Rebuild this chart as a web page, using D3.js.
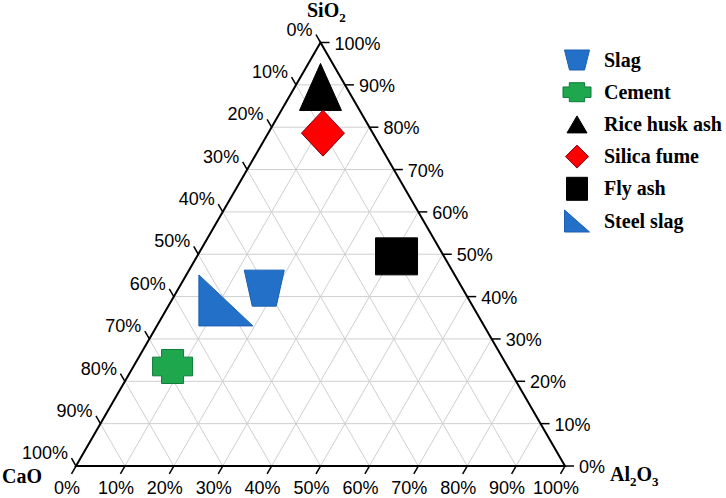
<!DOCTYPE html>
<html>
<head>
<meta charset="utf-8">
<script src="https://cdn.jsdelivr.net/npm/d3@7"></script>
<style>
  body { margin: 0; background: #fff; }
  svg { display: block; }
</style>
</head>
<body>
<div id="chart"></div>
<script>
// materials and their composition (%)
const materials = ["Slag", "Cement", "Rice husk ash", "Silica fume", "Fly ash", "Steel slag"]
const caoValues = [40.5, 68.5, 5.25, 10.2, 9.7, 49.8]
const sio2Values = [42, 23.5, 89.5, 78.6, 49.5, 39.1]
const al2o3Values = [17.5, 8, 5.25, 11.2, 40.8, 11.1]
const tickValues = [0, 10, 20, 30, 40, 50, 60, 70, 80, 90, 100]
const gridValues = [10, 20, 30, 40, 50, 60, 70, 80, 90]

const shapes = ["trapezoid", "cross", "triangle", "diamond", "square", "rightTriangle"]
const fills = ["#2270c8", "#1fa74e", "#000000", "#ff0000", "#000000", "#2270c8"]
const strokes = ["#1b5fb0", "#0f7a3c", "#000000", "#7a0020", "#000000", "#1b5fb0"]
const markerSizes = [[40, 36], [40, 34], [42, 47], [43, 46], [42, 37], [54, 51]]
const legendSizes = [[25, 20], [28, 19], [20, 17], [23, 23], [21, 23], [25, 22]]

function draw() {
  const dimensions = {
    width: 726,
    height: 498,
    left: 76,
    right: 565,
    bottom: 466,
    top: 42.5,
  }

  // x runs along the base (Al2O3 + half of SiO2), y is SiO2
  const xScale = d3.scaleLinear().domain([0, 100]).range([dimensions.left, dimensions.right])
  const yScale = d3.scaleLinear().domain([0, 100]).range([dimensions.bottom, dimensions.top])
  const project = (s, a) => [xScale(a + s / 2), yScale(s)]

  const svg = d3
    .select("#chart")
    .append("svg")
    .attr("width", dimensions.width)
    .attr("height", dimensions.height)

  const line = d3.line()

  // grid
  const grid = svg.append("g").attr("stroke", "#cfcfcf").attr("stroke-width", 1).attr("fill", "none")
  gridValues.forEach(v => {
    // constant SiO2 (horizontal)
    grid.append("path").attr("d", line([project(v, 0), project(v, 100 - v)]))
    // constant Al2O3
    grid.append("path").attr("d", line([project(0, v), project(100 - v, v)]))
    // constant CaO
    grid.append("path").attr("d", line([project(100 - v, 0), project(0, 100 - v)]))
  })

  // frame
  svg
    .append("path")
    .attr("d", line([project(100, 0), project(0, 0), project(0, 100)]) + "Z")
    .attr("fill", "none")
    .attr("stroke", "#000")
    .attr("stroke-width", 2)
    .attr("stroke-linejoin", "miter")

  const tickLen = 9
  const axes = svg.append("g").attr("stroke", "#000").attr("stroke-width", 1.5)
  const labels = svg
    .append("g")
    .attr("font-family", "'Liberation Sans', Arial, sans-serif")
    .attr("font-size", 18)
    .attr("fill", "#000")

  tickValues.forEach(v => {
    // bottom axis: Al2O3
    const [bx, by] = project(0, v)
    const bdx = -0.5 * tickLen
    const bdy = 0.866 * tickLen
    axes.append("line").attr("x1", bx).attr("y1", by).attr("x2", bx + bdx).attr("y2", by + bdy)
    labels
      .append("text")
      .attr("x", bx - 9)
      .attr("y", 494)
      .attr("text-anchor", "middle")
      .text(v + "%")

    // right axis: SiO2
    const [rx, ry] = project(v, 100 - v)
    axes.append("line").attr("x1", rx).attr("y1", ry).attr("x2", rx + tickLen).attr("y2", ry)
    labels
      .append("text")
      .attr("x", rx + tickLen + 5)
      .attr("y", ry + 1)
      .attr("dominant-baseline", "central")
      .text(v + "%")

    // left axis: CaO (0% at top)
    const [lx, ly] = project(100 - v, 0)
    const ldx = -0.5 * tickLen
    const ldy = -0.866 * tickLen
    axes.append("line").attr("x1", lx).attr("y1", ly).attr("x2", lx + ldx).attr("y2", ly + ldy)
    labels
      .append("text")
      .attr("x", lx + ldx - 3.5)
      .attr("y", ly + ldy - 5)
      .attr("text-anchor", "end")
      .attr("dominant-baseline", "central")
      .text(v + "%")
  })

  // marker shapes centred on 0,0
  const shapePath = (shape, w, h) => {
    const hw = w / 2
    const hh = h / 2
    let pts
    if (shape === "trapezoid") {
      pts = [[-hw, -hh], [hw, -hh], [hw * 0.6, hh], [-hw * 0.6, hh]]
    } else if (shape === "cross") {
      const aw = hw * 0.55
      const ah = hh * 0.55
      pts = [[-aw, -hh], [aw, -hh], [aw, -ah], [hw, -ah], [hw, ah], [aw, ah], [aw, hh], [-aw, hh], [-aw, ah], [-hw, ah], [-hw, -ah], [-aw, -ah]]
    } else if (shape === "triangle") {
      pts = [[0, -hh], [hw, hh], [-hw, hh]]
    } else if (shape === "diamond") {
      pts = [[0, -hh], [hw, 0], [0, hh], [-hw, 0]]
    } else if (shape === "square") {
      pts = [[-hw, -hh], [hw, -hh], [hw, hh], [-hw, hh]]
    } else {
      pts = [[-hw, -hh], [hw, hh], [-hw, hh]]
    }
    return line(pts) + "Z"
  }

  // data markers
  svg
    .append("g")
    .selectAll("path")
    .data(materials)
    .join("path")
    .attr("d", (d, i) => shapePath(shapes[i], markerSizes[i][0], markerSizes[i][1]))
    .attr("transform", (d, i) => {
      const [x, y] = project(sio2Values[i], al2o3Values[i])
      return `translate(${x},${y})`
    })
    .attr("fill", (d, i) => fills[i])
    .attr("stroke", (d, i) => strokes[i])
    .attr("stroke-width", 1)

  // axis titles
  const titles = svg
    .append("g")
    .attr("font-family", "'Liberation Serif', 'Times New Roman', serif")
    .attr("font-weight", "bold")
    .attr("font-size", 20)
    .attr("fill", "#000")

  const sio2 = titles.append("text").attr("x", 307).attr("y", 17)
  sio2.append("tspan").text("SiO")
  sio2.append("tspan").attr("font-size", 13).attr("dy", 5).text("2")

  titles.append("text").attr("x", 2).attr("y", 483).text("CaO")

  const al = titles.append("text").attr("x", 610).attr("y", 481)
  al.append("tspan").text("Al")
  al.append("tspan").attr("font-size", 13).attr("dy", 5).text("2")
  al.append("tspan").attr("dy", -5).text("O")
  al.append("tspan").attr("font-size", 13).attr("dy", 5).text("3")

  // legend
  const legend = svg
    .append("g")
    .selectAll("g")
    .data(materials)
    .join("g")
    .attr("transform", (d, i) => `translate(577, ${60 + i * 32.2})`)

  legend
    .append("path")
    .attr("d", (d, i) => shapePath(shapes[i], legendSizes[i][0], legendSizes[i][1]))
    .attr("fill", (d, i) => fills[i])
    .attr("stroke", (d, i) => strokes[i])
    .attr("stroke-width", 1)

  legend
    .append("text")
    .attr("x", 27)
    .attr("y", 6.5)
    .attr("font-family", "'Liberation Serif', 'Times New Roman', serif")
    .attr("font-weight", "bold")
    .attr("font-size", 20)
    .text(d => d)
}

draw()
</script>
</body>
</html>
